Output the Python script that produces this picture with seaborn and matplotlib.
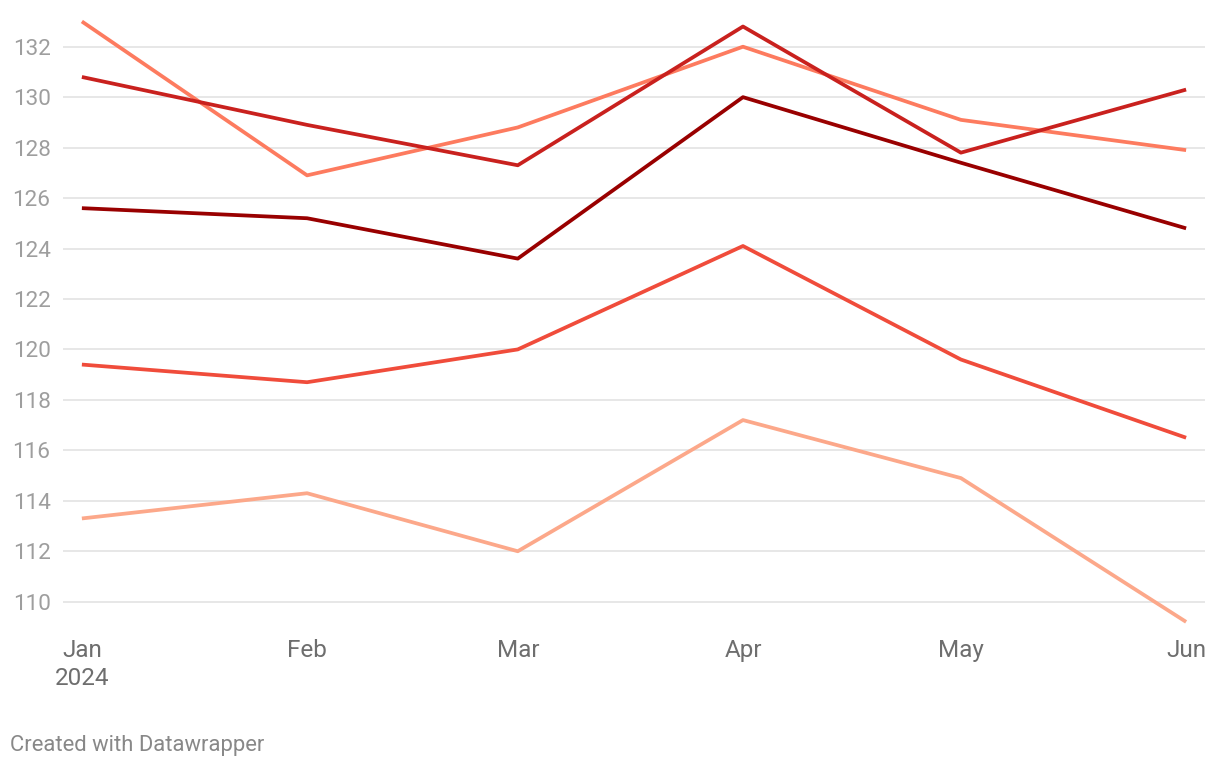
import matplotlib
matplotlib.use("Agg")
import matplotlib.pyplot as plt
import pandas as pd
import seaborn as sns

# data
months = pd.to_datetime(["2024-01-01", "2024-02-01", "2024-03-01",
                         "2024-04-01", "2024-05-01", "2024-06-01"])
month_labels = ["Jan\n2024", "Feb", "Mar", "Apr", "May", "Jun"]

series_a = [133.0, 126.9, 128.8, 132.0, 129.1, 127.9]
series_b = [130.8, 128.9, 127.3, 132.8, 127.8, 130.3]
series_c = [125.6, 125.2, 123.6, 130.0, 127.4, 124.8]
series_d = [119.4, 118.7, 120.0, 124.1, 119.6, 116.5]
series_e = [113.3, 114.3, 112.0, 117.2, 114.9, 109.2]

series_names = ["A", "B", "C", "D", "E"]
series_colors = ["#fd7b5f", "#c9211e", "#990000", "#f04c3b", "#fca88a"]
y_ticks = [110, 112, 114, 116, 118, 120, 122, 124, 126, 128, 130, 132]


def main():
    frames = []
    for name, vals in zip(series_names,
                          [series_a, series_b, series_c, series_d, series_e]):
        frames.append(pd.DataFrame({"date": months, "value": vals, "series": name}))
    df = pd.concat(frames, ignore_index=True)

    sns.set_style("white")
    plt.rcParams["font.family"] = ["Roboto", "DejaVu Sans"]

    fig = plt.figure(figsize=(12.2, 7.68), dpi=100)
    # axes box in pixels: x 63..1205, y 10..628
    ax = fig.add_axes([63 / 1220, 1 - 628 / 768, (1205 - 63) / 1220, (628 - 10) / 768])

    sns.lineplot(data=df, x="date", y="value", hue="series",
                 palette=series_colors, linewidth=2.7, legend=False, ax=ax,
                 solid_capstyle="butt")

    pad = pd.Timedelta(days=2.6)
    ax.set_xlim(months[0] - pad, months[-1] + pad)
    px_per_unit = (601.7 - 46.7) / 22
    ax.set_ylim(110 - (628 - 601.7) / px_per_unit, 132 + (46.7 - 10) / px_per_unit)

    ax.set_yticks(y_ticks)
    ax.yaxis.grid(True, color="#e3e3e3", linewidth=1.2)
    ax.set_axisbelow(True)
    ax.tick_params(axis="y", length=0, pad=9, labelsize=16.2, labelcolor="#9e9e9e")

    ax.set_xticks(months)
    ax.set_xticklabels(month_labels, linespacing=1.25)
    ax.tick_params(axis="x", length=0, pad=8, labelsize=17.5, labelcolor="#6e6e6e")

    for s in ax.spines.values():
        s.set_visible(False)
    ax.set_xlabel("")
    ax.set_ylabel("")

    fig.text(10 / 1220, 1 - 745 / 768, "Created with Datawrapper",
             fontsize=15.8, color="#888888", va="center", ha="left")

    fig.savefig("out.png", dpi=100, facecolor="white")


if __name__ == "__main__":
    main()
